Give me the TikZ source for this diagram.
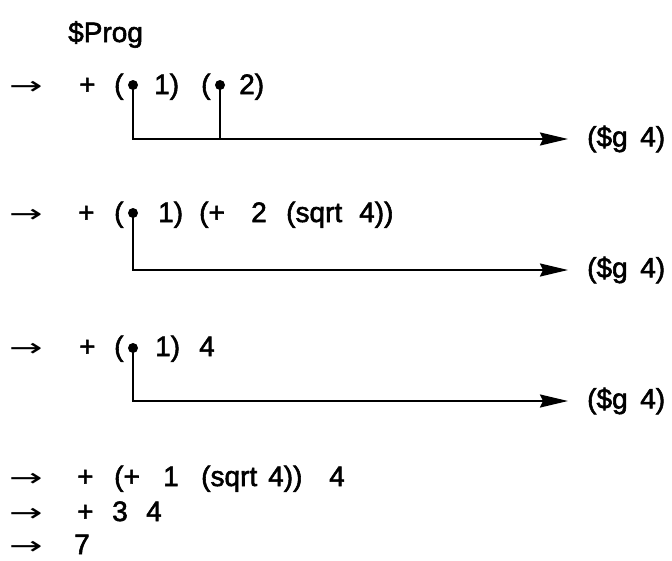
\documentclass[tikz,border=0pt]{standalone}
\usepackage{fontspec}
\setmainfont{Liberation Sans}
\newfontfamily\medfont{Liberation Sans}[FakeBold=2]
\newfontfamily\arrfont{DejaVu Sans}
\usetikzlibrary{arrows.meta}
\begin{document}
\begin{tikzpicture}[x=1pt,y=-1pt,
  tok/.style={anchor=base west, inner sep=0pt, font=\medfont\fontsize{28}{32}\selectfont},
  arw/.style={anchor=base west, inner sep=0pt, font=\fontsize{25}{30}\selectfont},
  dotst/.style={circle, fill=black, inner sep=0pt, minimum size=10pt},
  lab/.style={anchor=west, inner xsep=19pt, inner ysep=0pt, font=\medfont\fontsize{28}{32}\selectfont},
  wire/.style={line width=2pt},
  arr/.style={line width=2pt, -{Stealth[length=28pt, width=13pt, inset=3pt]}}]
\useasboundingbox (0,0) rectangle (672,560);
% title
\node[tok] (prog) at (68,42) {\$Prog};
% line 1
\node[arw] (a1) at (9,94) {\scalebox{1.6}[1]{\arrfont →}};
\node[tok] (p1) at (79,94) {+};
\node[tok] (o1) at (114,94) {(};
\node[tok] (n1) at (154,94) {1)};
\node[tok] (o2) at (201,94) {(};
\node[tok] (n2) at (239,94) {2)};
\node[dotst] (d1) at (133,85) {};
\node[dotst] (d2) at (220,85) {};
\node[lab] (g1) at (568,139) {(\$g\hspace{0.45em}4)};
\draw[arr] (d1.center) |- (g1.west);
\draw[wire] (d2.center) -- (d2.center |- g1.west);
% line 2
\node[arw] (a2) at (9,222) {\scalebox{1.6}[1]{\arrfont →}};
\node[tok] (p2) at (78,222) {+};
\node[tok] (o3) at (114,222) {(};
\node[tok] (n3) at (158,222) {1)};
\node[tok] (e1) at (199,222) {(+};
\node[tok] (e2) at (251,222) {2};
\node[tok] (e3) at (286,222) {(sqrt};
\node[tok] (e4) at (359,222) {4))};
\node[dotst] (d3) at (133,213) {};
\node[lab] (g2) at (568,270) {(\$g\hspace{0.45em}4)};
\draw[arr] (d3.center) |- (g2.west);
% line 3
\node[arw] (a3) at (9,356) {\scalebox{1.6}[1]{\arrfont →}};
\node[tok] (p3) at (79,356) {+};
\node[tok] (o4) at (114,356) {(};
\node[tok] (n4) at (155,356) {1)};
\node[tok] (f1) at (199,356) {4};
\node[dotst] (d4) at (133,348) {};
\node[lab] (g3) at (568,401) {(\$g\hspace{0.45em}4)};
\draw[arr] (d4.center) |- (g3.west);
% line 4
\node[arw] (a4) at (9,486) {\scalebox{1.6}[1]{\arrfont →}};
\node[tok] (p4) at (77,486) {+};
\node[tok] (h1) at (114,486) {(+};
\node[tok] (h2) at (163,486) {1};
\node[tok] (h3) at (201,486) {(sqrt};
\node[tok] (h4) at (268,486) {4))};
\node[tok] (h5) at (329,486) {4};
% line 5
\node[arw] (a5) at (9,521) {\scalebox{1.6}[1]{\arrfont →}};
\node[tok] (p5) at (77,521) {+};
\node[tok] (k1) at (112,521) {3};
\node[tok] (k2) at (146,521) {4};
% line 6
\node[arw] (a6) at (9,554) {\scalebox{1.6}[1]{\arrfont →}};
\node[tok] (m1) at (74,554) {7};
\end{tikzpicture}
\end{document}
